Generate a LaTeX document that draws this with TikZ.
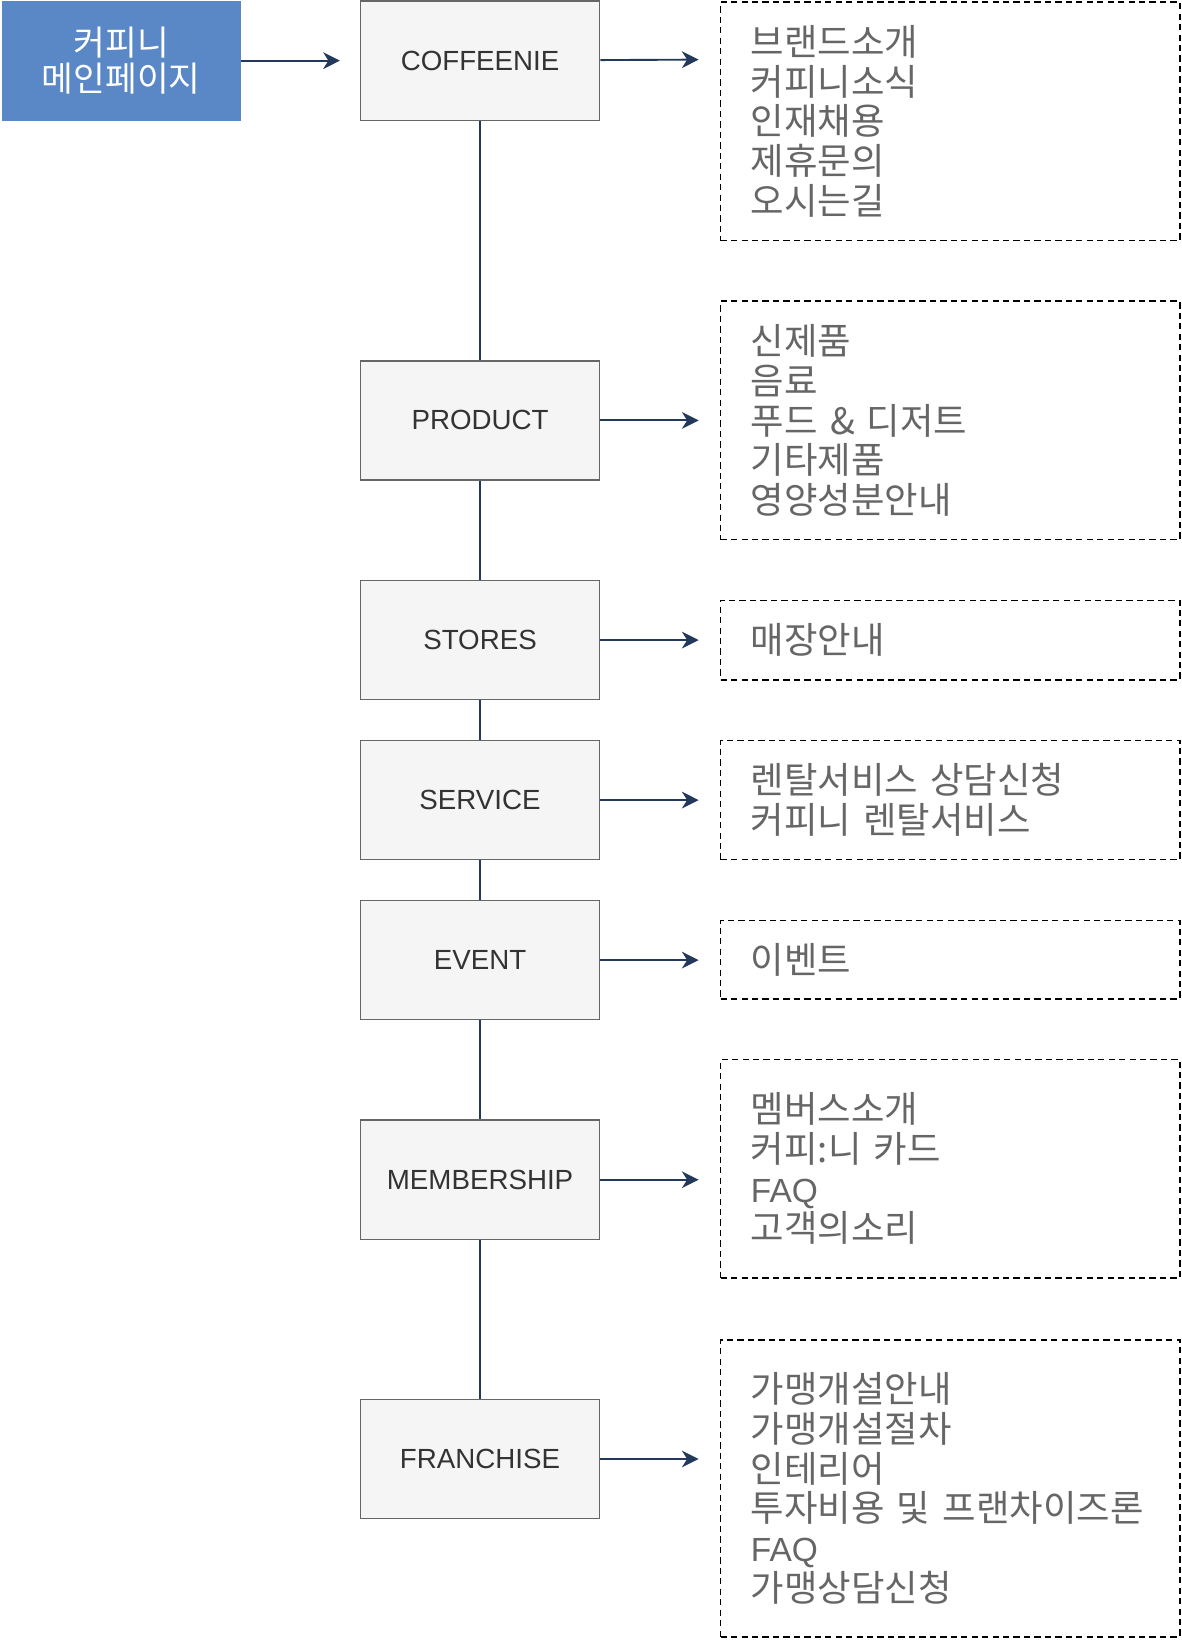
\documentclass[tikz,border=0pt]{standalone}
\usepackage{fontspec}
\setmainfont{Liberation Sans}
\newfontfamily\kr{Noto Sans CJK KR}
\usepackage{xcolor}
\usetikzlibrary{arrows, arrows.meta}
\usetikzlibrary{calc}
\definecolor{mainblue}{HTML}{5A87C5}
\definecolor{boxfill}{HTML}{F5F5F5}
\definecolor{boxline}{HTML}{666666}
\definecolor{labelgray}{HTML}{333333}
\definecolor{listgray}{HTML}{666666}
\definecolor{navy}{HTML}{23395B}
\newcommand{\latin}[1]{{\rmfamily\fontsize{32}{38}\selectfont #1}}

\begin{document}
\begin{tikzpicture}[x=1pt, y=-1pt,
    mainbox/.style={rectangle, fill=mainblue, draw=mainblue, text=white, minimum width=228pt, minimum height=113pt, align=center, font=\kr\fontsize{33}{35}\selectfont},
    menubox/.style={rectangle, fill=boxfill, draw=boxline, line width=1.3pt, text=labelgray, minimum width=229pt, minimum height=114pt, font=\fontsize{26.5}{30}\selectfont},
    listbox/.style={rectangle, draw=black, line width=1.5pt, dash pattern=on 6pt off 4pt, text=listgray, minimum width=439pt, text width=381pt, inner xsep=29pt, align=left, font=\kr\fontsize{34.8}{38}\selectfont},
    link/.style={draw=navy, line width=1.3pt},
    go/.style={draw=navy, line width=1.8pt, -{Stealth[length=16pt, width=16pt, inset=5pt]}}]
  \useasboundingbox (0,0) rectangle (1130,1570);

  \node[mainbox] (0) at (116,58) {커피니\\메인페이지};

  \node[menubox] (1) at (459,58) {COFFEENIE};
  \node[menubox] (2) at (459,402) {PRODUCT};
  \node[menubox] (3) at (459,612) {STORES};
  \node[menubox] (4) at (459,765) {SERVICE};
  \node[menubox] (5) at (459,918) {EVENT};
  \node[menubox] (6) at (459,1128) {MEMBERSHIP};
  \node[menubox] (7) at (459,1395) {FRANCHISE};

  % dashed lists of sub pages
  \node[listbox, minimum height=228pt] (11) at (908.5,116) {브랜드소개\\커피니소식\\인재채용\\제휴문의\\오시는길};
  \node[listbox, minimum height=228pt] (12) at (908.5,402) {신제품\\음료\\푸드 \& 디저트\\기타제품\\영양성분안내};
  \node[listbox, minimum height=76pt] (13) at (908.5,612) {매장안내};
  \node[listbox, minimum height=114pt] (14) at (908.5,765) {렌탈서비스 상담신청\\커피니 렌탈서비스};
  \node[listbox, minimum height=75pt] (15) at (908.5,917.5) {이벤트};
  \node[listbox, minimum height=209pt] (16) at (908.5,1117.5) {멤버스소개\\커피:니 카드\\\latin{FAQ}\\고객의소리};
  \node[listbox, minimum height=284pt] (17) at (908.5,1423) {가맹개설안내\\가맹개설절차\\인테리어\\투자비용 및 프랜차이즈론\\\latin{FAQ}\\가맹상담신청};

  \coordinate (t0) at (325,58);
  \coordinate (t1) at (668,57);
  \coordinate (t2) at (668,402);
  \coordinate (t3) at (668,612);
  \coordinate (t4) at (668,765);
  \coordinate (t5) at (668,918);
  \coordinate (t6) at (668,1128);
  \coordinate (t7) at (668,1395);

  \draw[link] (1) -- (2) -- (3) -- (4) -- (5) -- (6) -- (7);
  \draw[go] (0) -- (t0);
  \draw[go] (1) -- (t1);
  \draw[go] (2) -- (t2);
  \draw[go] (3) -- (t3);
  \draw[go] (4) -- (t4);
  \draw[go] (5) -- (t5);
  \draw[go] (6) -- (t6);
  \draw[go] (7) -- (t7);
\end{tikzpicture}
\end{document}
